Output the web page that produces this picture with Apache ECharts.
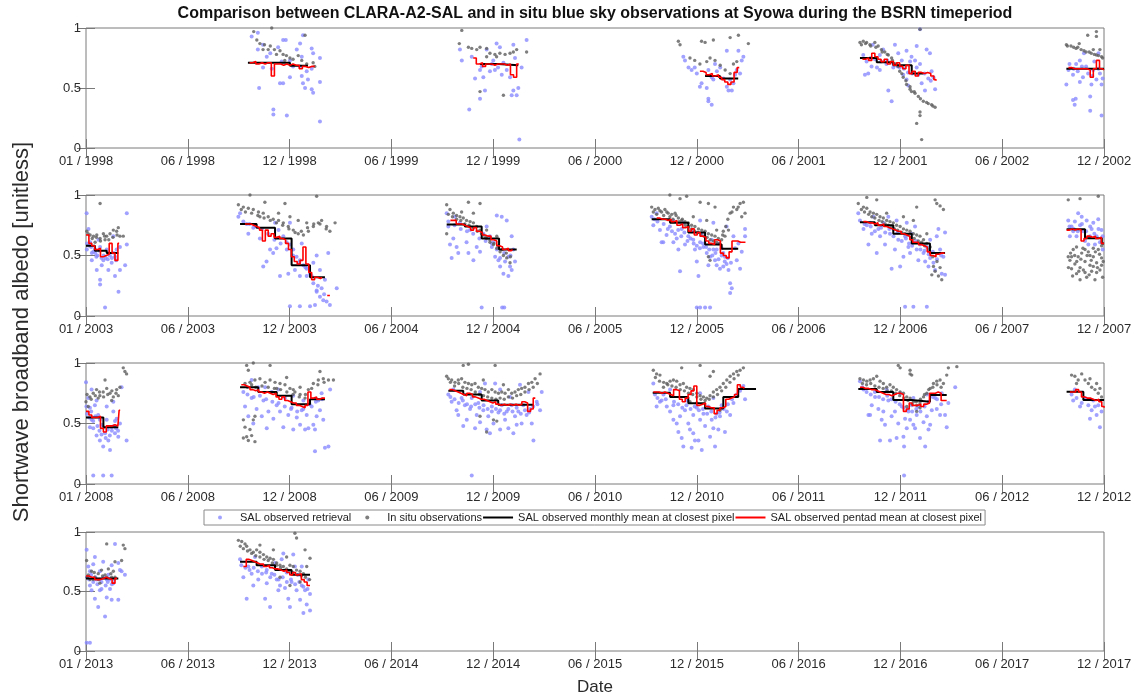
<!DOCTYPE html>
<html>
<head>
<meta charset="utf-8">
<script src="https://cdn.jsdelivr.net/npm/echarts@6/dist/echarts.min.js"></script>
<style>
  html, body { margin: 0; padding: 0; background: #ffffff; }
  #chart { width: 1136px; height: 700px; }
</style>
</head>
<body>
<div id="chart"></div>
<script>
// Labels
const TITLE = 'Comparison between CLARA-A2-SAL and in situ blue sky observations at Syowa during the BSRN timeperiod';
const Y_NAME = 'Shortwave broadband albedo [unitless]';
const X_NAME = 'Date';
const NAMES = ['SAL observed retrieval', 'In situ observations',
  'SAL observed monthly mean at closest pixel', 'SAL observed pentad mean at closest pixel'];

// Each panel spans Jan of its first year to Dec of its fifth year (59 months)
const PANEL_START_YEARS = [1998, 2003, 2008, 2013];
const Y_TICKS = [0, 0.5, 1];

// ---- Data: [decimal year, albedo]; null separates summer seasons ----

// Panel 1 : 1998 - 2002
const salP1 = [
  [1998.80,0.93],[1998.83,0.96],[1998.855,0.86],[1998.873,0.76],[1998.855,0.67],[1998.836,0.50],[1998.897,0.66],[1998.905,0.32],[1998.905,0.28],[1998.97,0.27],[1998.937,0.54],[1998.952,0.54],[1998.928,0.84],[1998.952,0.90],[1998.965,0.90],[1999.034,0.87],[1999.048,0.94],[1999.042,0.76],[1999.042,0.60],[1999.048,0.54],[1999.058,0.50],[1999.09,0.83],[1999.097,0.79],[1999.09,0.66],[1999.09,0.49],[1999.097,0.46],[1999.13,0.55],[1999.13,0.75],[1999.13,0.22],[1999.0,0.68],[1998.985,0.59],[1999.018,0.82],[1998.83,0.82],[1998.89,0.79],[1998.945,0.72],[1998.985,0.73],[1999.066,0.64],[1999.072,0.57],[1999.034,0.68],
  [1999.806,0.82],[1999.815,0.73],[1999.851,0.32],[1999.903,0.41],[1999.927,0.48],[1999.879,0.58],[1999.919,0.59],[1999.903,0.65],[1999.951,0.64],[1999.975,0.65],[1999.99,0.67],[2000.008,0.61],[2000.032,0.65],[2000.048,0.59],[2000.064,0.48],[2000.088,0.50],[2000.08,0.44],[2000.056,0.44],[2000.093,0.07],[2000.128,0.90],[2000.104,0.67],[1999.983,0.87],[1999.999,0.84],[2000.064,0.86],[1999.935,0.82],[1999.863,0.76],[1999.911,0.68],[1999.96,0.70],[1999.967,0.73],[2000.016,0.71],[2000.072,0.75],
  [2000.885,0.76],[2000.893,0.73],[2000.91,0.67],[2000.925,0.65],[2000.94,0.67],[2000.965,0.51],[2000.973,0.54],[2000.998,0.50],[2001.006,0.41],[2001.006,0.39],[2001.022,0.36],[2001.03,0.57],[2001.047,0.64],[2001.063,0.67],[2001.079,0.58],[2001.095,0.51],[2001.103,0.48],[2001.119,0.48],[2001.127,0.54],[2001.143,0.65],[2001.151,0.81],[2001.159,0.62],[2001.167,0.73],[2001.175,0.76],[2001.095,0.81],[2001.038,0.70],[2001.006,0.65],[2000.95,0.62],[2001.022,0.59],[2001.111,0.57],[2001.135,0.61],
  [2001.754,0.775],[2001.762,0.61],[2001.778,0.62],[2001.794,0.68],[2001.80,0.86],[2001.82,0.67],[2001.834,0.775],[2001.85,0.82],[2001.875,0.48],[2001.891,0.39],[2001.899,0.67],[2001.907,0.86],[2001.923,0.79],[2001.94,0.73],[2001.947,0.61],[2001.963,0.57],[2001.971,0.52],[2001.98,0.72],[2001.987,0.76],[2002.004,0.73],[2002.012,0.67],[2002.028,0.70],[2002.036,0.54],[2002.052,0.48],[2002.068,0.58],[2002.076,0.79],[2002.084,0.64],[2002.093,0.59],[2002.101,0.49],[2002.028,0.99],[2002.012,0.85],[2002.06,0.82],[2001.963,0.81],[2001.93,0.67],[2001.866,0.70],[2001.834,0.65],
  [2001.77,0.72],[2001.79,0.75],[2001.81,0.74],[2001.84,0.72],[2001.87,0.73],[2001.90,0.70],[2001.92,0.68],[2001.95,0.66],[2001.97,0.63],[2001.99,0.62],[2002.02,0.61],[2002.05,0.62],[2002.08,0.56],
  [2002.735,0.53],[2002.767,0.40],[2002.775,0.36],[2002.78,0.41],[2002.745,0.65],[2002.80,0.73],[2002.82,0.79],[2002.85,0.43],[2002.85,0.31],[2002.865,0.65],[2002.89,0.79],[2002.905,0.27],[2002.905,0.53],[2002.80,0.55],[2002.815,0.59],[2002.83,0.68],[2002.87,0.72],[2002.897,0.62],[2002.767,0.61],[2002.782,0.70],[2002.856,0.53],[2002.88,0.57],
  [2002.75,0.70],[2002.77,0.66],[2002.79,0.64],[2002.81,0.68],[2002.84,0.62],[2002.86,0.60],[2002.89,0.66],[2002.91,0.58]
];
const situP1 = [
  [1998.81,0.97],[1998.825,0.90],[1998.84,0.87],[1998.862,0.86],[1998.89,0.85],[1998.897,1.0],[1998.91,0.82],[1998.937,0.81],[1998.952,0.78],[1998.968,0.77],[1998.985,0.75],[1999.0,0.74],[1999.025,0.77],[1999.058,0.94],[1999.042,0.73],[1999.066,0.70],[1999.097,0.71],[1998.855,0.82],[1998.88,0.82],[1998.92,0.78],[1998.96,0.73],[1999.105,0.68],
  [1999.815,0.98],[1999.803,0.87],[1999.847,0.84],[1999.863,0.83],[1999.887,0.82],[1999.903,0.84],[1999.935,0.83],[1999.951,0.79],[1999.975,0.78],[1999.999,0.79],[2000.024,0.78],[2000.048,0.79],[2000.064,0.80],[2000.08,0.82],[2000.128,0.80],[1999.903,0.47],[2000.016,0.44],[1999.983,0.76],[1999.935,0.76],
  [2000.861,0.89],[2000.869,0.86],[2000.917,0.75],[2000.94,0.73],[2000.973,0.89],[2000.99,0.88],[2001.03,0.90],[2001.111,0.92],[2001.151,0.94],[2001.199,0.87],[2000.965,0.70],[2000.998,0.72],[2001.014,0.75],[2001.038,0.73],[2001.063,0.69],[2001.087,0.65],[2001.111,0.62],[2001.127,0.70],[2001.143,0.72],
  [2001.738,0.88],[2001.754,0.89],[2001.77,0.88],[2001.786,0.86],[2001.81,0.88],[2001.826,0.85],[2001.842,0.82],[2001.858,0.80],[2001.875,0.775],[2001.891,0.75],[2001.907,0.70],[2001.923,0.68],[2001.93,0.64],[2001.947,0.59],[2001.963,0.53],[2001.98,0.51],[2001.987,0.47],[2002.004,0.456],[2002.02,0.43],[2002.044,0.39],[2002.068,0.37],[2002.084,0.36],[2002.101,0.34],[2002.012,0.205],[2002.028,0.30],[2002.028,0.27],[2002.036,0.07],[2002.028,0.99],
  [2001.745,0.86],[2001.765,0.87],[2001.79,0.85],[2001.815,0.84],[2001.845,0.80],[2001.87,0.78],[2001.895,0.73],[2001.915,0.70],[2001.94,0.62],[2001.96,0.56],[2001.98,0.49],[2002.0,0.47],[2002.03,0.41],[2002.06,0.38],[2002.09,0.35],
  [2002.735,0.86],[2002.757,0.85],[2002.782,0.83],[2002.806,0.82],[2002.83,0.80],[2002.855,0.79],[2002.88,0.775],[2002.905,0.76],[2002.838,0.94],[2002.88,0.97],[2002.88,0.93],[2002.797,0.87],[2002.865,0.82],[2002.897,0.82],
  [2002.74,0.85],[2002.77,0.84],[2002.79,0.84],[2002.82,0.81],[2002.845,0.80],[2002.87,0.78],[2002.89,0.77],[2002.91,0.75]
];
const monthlyP1 = [
  [1998.782,0.71],[1998.985,0.685],[1999.072,0.685], null,
  [1999.903,0.70],[1999.991,0.69],[2000.088,0.69], null,
  [2000.99,0.60],[2001.062,0.58],[2001.15,0.58], null,
  [2001.738,0.75],[2001.819,0.715],[2001.899,0.69],[2001.988,0.62],[2002.044,0.62], null,
  [2002.735,0.66],[2002.917,0.66]
];
const pentadP1 = [
  [1998.79,0.71],[1998.805,0.72],[1998.82,0.70],[1998.835,0.71],[1998.85,0.70],[1998.865,0.71],[1998.88,0.71],[1998.895,0.60],[1998.91,0.70],[1998.925,0.70],[1998.94,0.69],[1998.955,0.70],[1998.97,0.69],[1998.985,0.70],[1999.0,0.69],[1999.015,0.69],[1999.03,0.66],[1999.045,0.68],[1999.06,0.67],[1999.075,0.68],[1999.09,0.68],[1999.105,0.68], null,
  [1999.87,0.75],[1999.885,0.70],[1999.90,0.71],[1999.915,0.68],[1999.93,0.70],[1999.945,0.70],[1999.96,0.69],[1999.975,0.70],[1999.99,0.70],[2000.005,0.70],[2000.02,0.69],[2000.035,0.70],[2000.05,0.61],[2000.065,0.59],[2000.08,0.70],[2000.09,0.70], null,
  [2000.965,0.64],[2000.98,0.63],[2000.995,0.61],[2001.01,0.62],[2001.025,0.60],[2001.04,0.61],[2001.055,0.59],[2001.07,0.57],[2001.085,0.55],[2001.10,0.53],[2001.115,0.55],[2001.13,0.63],[2001.145,0.67],[2001.155,0.67], null,
  [2001.75,0.74],[2001.765,0.75],[2001.78,0.73],[2001.795,0.79],[2001.81,0.76],[2001.825,0.74],[2001.84,0.72],[2001.855,0.74],[2001.87,0.70],[2001.885,0.72],[2001.90,0.69],[2001.915,0.71],[2001.93,0.68],[2001.945,0.66],[2001.96,0.69],[2001.975,0.62],[2001.99,0.64],[2002.005,0.60],[2002.02,0.63],[2002.035,0.62],[2002.05,0.63],[2002.065,0.62],[2002.08,0.60],[2002.095,0.57],[2002.105,0.56], null,
  [2002.745,0.67],[2002.76,0.66],[2002.775,0.66],[2002.79,0.66],[2002.805,0.66],[2002.82,0.66],[2002.835,0.65],[2002.85,0.59],[2002.865,0.66],[2002.88,0.73],[2002.895,0.66],[2002.91,0.65],[2002.917,0.65]
];

// Panel 2 : 2003 - 2007
const salP2 = [
  [2003.068,0.30],[2003.068,0.26],[2003.052,0.38],[2003.092,0.07],[2003.157,0.20],[2003.14,0.33],[2003.197,0.85],[2003.189,0.42],[2003.164,0.38],[2003.003,0.85],[2003.012,0.72],[2003.028,0.52],[2003.05,0.49],[2003.084,0.46],[2003.108,0.52],[2003.124,0.44],[2003.14,0.49],[2003.148,0.55],[2003.164,0.57],[2003.044,0.55],[2003.068,0.57],[2003.10,0.55],[2003.02,0.61],[2003.06,0.63],[2003.132,0.66],[2003.076,0.42],[2003.108,0.38],[2003.004,0.55],[2003.028,0.46],[2003.197,0.59],
  [2003.005,0.60],[2003.015,0.58],[2003.025,0.57],[2003.035,0.53],[2003.045,0.52],[2003.055,0.50],[2003.065,0.54],[2003.075,0.48],[2003.085,0.50],[2003.095,0.48],[2003.105,0.47],[2003.115,0.50],[2003.125,0.48],[2003.135,0.52],[2003.145,0.46],
  [2003.736,0.82],[2003.744,0.85],[2003.776,0.76],[2003.784,0.68],[2003.808,0.73],[2003.856,0.41],[2003.872,0.45],[2003.889,0.55],[2003.92,0.56],[2003.93,0.71],[2003.953,0.66],[2003.969,0.61],[2003.985,0.59],[2004.001,0.55],[2004.017,0.49],[2004.033,0.46],[2004.05,0.42],[2004.066,0.39],[2004.082,0.35],[2004.098,0.27],[2004.114,0.21],[2004.13,0.16],[2004.146,0.13],[2004.162,0.12],[2004.178,0.09],[2003.985,0.08],[2004.033,0.08],[2004.082,0.08],[2004.106,0.09],[2004.13,0.38],[2004.154,0.30],[2004.211,0.23],[2004.17,0.52],[2004.114,0.50],[2004.098,0.44],[2004.066,0.33],[2004.042,0.60],[2004.009,0.38],[2003.977,0.35],[2003.937,0.33],[2003.904,0.52],[2003.84,0.64],[2003.913,0.77],[2003.985,0.77],[2004.114,0.20],[2004.138,0.23],[2004.033,0.33],
  [2003.76,0.78],[2003.79,0.76],[2003.82,0.74],[2003.85,0.72],[2003.88,0.68],[2003.91,0.63],[2003.94,0.60],[2003.97,0.55],[2004.0,0.50],[2004.03,0.44],[2004.06,0.40],[2004.09,0.33],[2004.12,0.25],[2004.15,0.18],
  [2004.742,0.85],[2004.75,0.74],[2004.758,0.59],[2004.774,0.64],[2004.79,0.57],[2004.766,0.48],[2004.798,0.52],[2004.838,0.61],[2004.847,0.52],[2004.871,0.46],[2004.887,0.57],[2004.903,0.53],[2004.919,0.68],[2004.935,0.74],[2004.951,0.66],[2004.968,0.61],[2004.984,0.55],[2004.992,0.46],[2005.0,0.41],[2005.016,0.35],[2005.024,0.45],[2005.04,0.33],[2005.04,0.49],[2004.984,0.83],[2005.008,0.82],[2005.032,0.79],[2005.056,0.66],[2005.064,0.55],[2005.072,0.45],[2005.048,0.41],[2004.911,0.07],[2005.01,0.07],[2005.02,0.07],[2004.855,0.71],[2004.806,0.77],[2004.782,0.82],[2004.96,0.57],[2004.976,0.49],[2005.0,0.48],[2005.056,0.38],
  [2004.75,0.78],[2004.78,0.75],[2004.81,0.72],[2004.84,0.70],[2004.87,0.68],[2004.90,0.64],[2004.93,0.62],[2004.96,0.60],[2004.99,0.56],[2005.02,0.52],[2005.05,0.50],
  [2005.732,0.82],[2005.74,0.75],[2005.756,0.85],[2005.772,0.71],[2005.788,0.61],[2005.804,0.67],[2005.82,0.74],[2005.837,0.79],[2005.853,0.64],[2005.861,0.55],[2005.869,0.37],[2005.877,0.72],[2005.893,0.59],[2005.909,0.66],[2005.925,0.70],[2005.941,0.55],[2005.95,0.45],[2005.958,0.33],[2005.966,0.61],[2005.982,0.57],[2005.998,0.52],[2006.006,0.42],[2006.014,0.49],[2006.03,0.55],[2006.038,0.46],[2006.046,0.42],[2006.062,0.39],[2006.078,0.52],[2006.094,0.43],[2006.103,0.38],[2006.111,0.27],[2006.119,0.23],[2006.111,0.19],[2006.143,0.46],[2006.159,0.39],[2006.167,0.53],[2006.183,0.66],[2006.183,0.72],[2006.127,0.66],[2006.094,0.74],[2006.03,0.77],[2005.966,0.79],[2005.95,0.07],[2005.966,0.07],[2005.99,0.07],[2006.014,0.07],[2005.78,0.61],[2005.837,0.61],[2006.054,0.60],[2006.07,0.56],[2006.086,0.49],[2006.135,0.56],[2006.151,0.60],[2005.885,0.77],[2005.933,0.63],[2005.974,0.68],[2006.022,0.63],[2006.046,0.55],[2006.078,0.41],
  [2005.745,0.80],[2005.76,0.78],[2005.79,0.76],[2005.81,0.72],[2005.83,0.70],[2005.845,0.68],[2005.86,0.71],[2005.875,0.66],[2005.89,0.69],[2005.905,0.62],[2005.92,0.64],[2005.935,0.60],[2005.95,0.58],[2005.965,0.56],[2005.98,0.60],[2005.995,0.57],[2006.01,0.55],[2006.025,0.50],[2006.04,0.52],[2006.055,0.47],[2006.07,0.50],[2006.085,0.45],[2006.10,0.48],[2006.115,0.44],
  [2006.73,0.85],[2006.738,0.79],[2006.755,0.72],[2006.771,0.75],[2006.779,0.59],[2006.795,0.68],[2006.803,0.82],[2006.819,0.52],[2006.835,0.66],[2006.851,0.77],[2006.859,0.59],[2006.875,0.82],[2006.883,0.68],[2006.891,0.39],[2006.907,0.55],[2006.915,0.79],[2006.923,0.63],[2006.932,0.41],[2006.948,0.49],[2006.956,0.66],[2006.964,0.77],[2006.972,0.57],[2006.98,0.52],[2006.996,0.61],[2007.004,0.74],[2007.012,0.55],[2007.02,0.46],[2007.028,0.59],[2007.045,0.52],[2007.053,0.45],[2007.061,0.57],[2007.069,0.41],[2007.077,0.48],[2007.093,0.44],[2007.101,0.38],[2007.109,0.66],[2007.117,0.72],[2007.125,0.55],[2007.133,0.35],[2007.141,0.49],[2007.149,0.69],[2007.149,0.34],[2006.956,0.077],[2006.996,0.077],[2007.061,0.077],[2006.787,0.77],[2006.827,0.72],[2006.899,0.72],[2006.988,0.68],[2007.077,0.63],
  [2006.76,0.76],[2006.79,0.74],[2006.81,0.70],[2006.84,0.73],[2006.86,0.69],[2006.88,0.72],[2006.90,0.66],[2006.92,0.69],[2006.94,0.62],[2006.96,0.64],[2006.975,0.60],[2006.99,0.58],[2007.01,0.62],[2007.03,0.55],[2007.05,0.54],[2007.07,0.51],[2007.09,0.53],[2007.11,0.47],[2007.13,0.50],
  [2007.744,0.79],[2007.752,0.66],[2007.76,0.74],[2007.776,0.78],[2007.792,0.85],[2007.801,0.75],[2007.817,0.70],[2007.833,0.79],[2007.841,0.59],[2007.857,0.72],[2007.865,0.77],[2007.881,0.66],[2007.889,0.80],[2007.897,0.61],[2007.905,0.71],[2007.784,0.66],[2007.809,0.82],[2007.849,0.66],[2007.873,0.59],[2007.768,0.70],[2007.825,0.62],[2007.91,0.55],
  [2007.75,0.74],[2007.77,0.72],[2007.79,0.70],[2007.81,0.76],[2007.83,0.70],[2007.85,0.74],[2007.87,0.68],[2007.89,0.72],[2007.91,0.66]
];
const situP2 = [
  [2003.004,0.70],[2003.02,0.67],[2003.036,0.66],[2003.052,0.67],[2003.068,0.64],[2003.084,0.68],[2003.10,0.66],[2003.116,0.68],[2003.132,0.71],[2003.148,0.70],[2003.164,0.66],[2003.18,0.66],[2003.068,0.93],[2003.044,0.61],[2003.092,0.63],[2003.156,0.73],
  [2003.01,0.68],[2003.03,0.64],[2003.05,0.65],[2003.07,0.62],[2003.09,0.66],[2003.11,0.63],[2003.13,0.65],[2003.15,0.67],
  [2003.736,0.92],[2003.76,0.90],[2003.784,0.89],[2003.808,0.88],[2003.833,0.86],[2003.856,0.85],[2003.88,0.82],[2003.904,0.80],[2003.93,0.79],[2003.953,0.77],[2003.977,0.74],[2004.001,0.71],[2004.025,0.68],[2004.05,0.67],[2004.074,0.70],[2004.098,0.74],[2004.122,0.77],[2004.138,0.79],[2004.162,0.74],[2004.178,0.70],[2004.203,0.77],[2003.792,1.0],[2003.864,0.94],[2003.961,0.93],[2004.114,0.99],[2004.025,0.79],[2004.066,0.77],[2003.84,0.82],[2003.93,0.85],[2003.985,0.82],
  [2003.75,0.88],[2003.77,0.86],[2003.80,0.85],[2003.83,0.83],[2003.86,0.81],[2003.89,0.79],[2003.92,0.77],[2003.95,0.75],[2003.98,0.72],[2004.01,0.69],[2004.04,0.70],[2004.07,0.73],[2004.10,0.76],[2004.13,0.76],[2004.16,0.72],
  [2004.742,0.92],[2004.758,0.88],[2004.774,0.85],[2004.79,0.83],[2004.806,0.82],[2004.822,0.81],[2004.838,0.79],[2004.855,0.78],[2004.871,0.77],[2004.887,0.74],[2004.903,0.71],[2004.919,0.67],[2004.935,0.64],[2004.951,0.61],[2004.968,0.59],[2004.984,0.56],[2005.0,0.53],[2005.016,0.50],[2005.032,0.48],[2005.048,0.44],[2004.847,0.94],[2004.903,0.93],[2004.742,0.68],[2004.814,0.86],[2004.871,0.85],[2004.984,0.66],[2004.935,0.71],
  [2004.75,0.84],[2004.77,0.82],[2004.79,0.80],[2004.81,0.79],[2004.83,0.76],[2004.85,0.75],[2004.87,0.73],[2004.89,0.70],[2004.91,0.68],[2004.93,0.65],[2004.95,0.63],[2004.97,0.60],[2004.99,0.58],[2005.01,0.55],[2005.03,0.52],[2005.05,0.49],
  [2005.732,0.90],[2005.748,0.88],[2005.764,0.89],[2005.78,0.86],[2005.796,0.88],[2005.812,0.85],[2005.829,0.84],[2005.845,0.85],[2005.861,0.81],[2005.877,0.79],[2005.893,0.78],[2005.909,0.77],[2005.925,0.75],[2005.941,0.74],[2005.958,0.72],[2005.974,0.71],[2005.99,0.70],[2006.006,0.68],[2006.022,0.67],[2006.038,0.66],[2006.054,0.64],[2006.07,0.63],[2006.086,0.66],[2006.103,0.71],[2006.111,0.85],[2006.127,0.90],[2006.143,0.88],[2006.159,0.93],[2006.175,0.94],[2006.183,0.85],[2006.167,0.82],[2005.82,1.0],[2005.869,0.97],[2005.901,0.99],[2005.966,0.94],[2006.006,0.93],[2006.038,0.90],[2006.006,0.49],[2006.014,0.46],[2005.933,0.82],[2005.998,0.79],[2006.046,0.71],[2006.078,0.70],
  [2005.74,0.86],[2005.756,0.84],[2005.772,0.87],[2005.79,0.83],[2005.805,0.86],[2005.82,0.82],[2005.835,0.80],[2005.85,0.83],[2005.865,0.78],[2005.88,0.80],[2005.895,0.75],[2005.91,0.74],[2005.925,0.72],[2005.94,0.70],[2005.955,0.69],[2005.97,0.67],[2005.985,0.66],[2006.0,0.65],[2006.015,0.63],[2006.03,0.62],[2006.045,0.61],[2006.06,0.60],[2006.075,0.67],[2006.09,0.74],[2006.1,0.80],[2006.12,0.86],[2006.15,0.90],
  [2006.73,0.93],[2006.755,0.90],[2006.771,0.89],[2006.787,0.86],[2006.803,0.85],[2006.819,0.84],[2006.835,0.82],[2006.851,0.81],[2006.867,0.79],[2006.883,0.78],[2006.899,0.77],[2006.915,0.75],[2006.932,0.74],[2006.948,0.72],[2006.964,0.71],[2006.98,0.70],[2006.996,0.68],[2007.012,0.67],[2007.028,0.66],[2007.045,0.63],[2007.061,0.60],[2007.077,0.57],[2007.093,0.41],[2007.101,0.37],[2007.117,0.33],[2007.133,0.30],[2007.085,0.34],[2007.109,0.93],[2007.125,0.91],[2007.141,0.88],[2007.101,0.96],[2007.012,0.90],[2006.771,0.98],[2006.819,0.96],[2006.948,0.82],[2006.996,0.79],[2007.061,0.68],[2006.867,0.85],
  [2006.745,0.88],[2006.76,0.86],[2006.78,0.84],[2006.795,0.82],[2006.81,0.81],[2006.83,0.79],[2006.845,0.78],[2006.86,0.76],[2006.875,0.75],[2006.89,0.74],[2006.905,0.72],[2006.92,0.71],[2006.94,0.69],[2006.955,0.68],[2006.97,0.67],[2006.985,0.65],[2007.0,0.64],[2007.02,0.62],[2007.035,0.61],[2007.05,0.58],[2007.07,0.55],[2007.08,0.52],[2007.09,0.49],[2007.11,0.45],[2007.125,0.40],
  [2007.744,0.49],[2007.752,0.46],[2007.76,0.39],[2007.768,0.55],[2007.776,0.43],[2007.784,0.35],[2007.792,0.49],[2007.801,0.40],[2007.809,0.52],[2007.817,0.38],[2007.825,0.45],[2007.833,0.32],[2007.841,0.53],[2007.849,0.42],[2007.857,0.37],[2007.865,0.49],[2007.873,0.30],[2007.881,0.44],[2007.889,0.55],[2007.897,0.38],[2007.905,0.48],[2007.91,0.32],[2007.744,0.96],[2007.801,0.97],[2007.889,0.99],[2007.784,0.57],[2007.865,0.56],[2007.76,0.49],[2007.825,0.55],[2007.881,0.36],[2007.905,0.58],[2007.801,0.30],[2007.849,0.50],
  [2007.745,0.40],[2007.755,0.52],[2007.765,0.33],[2007.775,0.50],[2007.785,0.45],[2007.795,0.37],[2007.805,0.47],[2007.815,0.56],[2007.825,0.36],[2007.835,0.50],[2007.845,0.34],[2007.855,0.46],[2007.865,0.41],[2007.875,0.53],[2007.885,0.40],[2007.895,0.51],[2007.905,0.42],[2007.913,0.45]
];
const monthlyP2 = [
  [2003.0,0.58],[2003.043,0.54],[2003.10,0.52],[2003.156,0.52], null,
  [2003.744,0.76],[2003.824,0.73],[2003.913,0.64],[2003.993,0.42],[2004.082,0.32],[2004.154,0.32], null,
  [2004.742,0.757],[2004.83,0.74],[2004.911,0.64],[2004.995,0.55],[2005.08,0.55], null,
  [2005.732,0.80],[2005.821,0.77],[2005.909,0.69],[2005.99,0.59],[2006.07,0.555],[2006.15,0.555], null,
  [2006.738,0.774],[2006.81,0.75],[2006.899,0.68],[2006.988,0.60],[2007.076,0.52],[2007.149,0.52], null,
  [2007.736,0.716],[2007.825,0.642],[2007.906,0.60],[2007.917,0.60]
];
const pentadP2 = [
  [2003.0,0.67],[2003.014,0.60],[2003.028,0.58],[2003.042,0.55],[2003.056,0.56],[2003.07,0.49],[2003.084,0.50],[2003.098,0.51],[2003.112,0.60],[2003.126,0.52],[2003.14,0.46],[2003.154,0.60],[2003.16,0.60], null,
  [2003.768,0.76],[2003.782,0.76],[2003.796,0.75],[2003.81,0.74],[2003.824,0.73],[2003.838,0.71],[2003.852,0.62],[2003.866,0.71],[2003.88,0.66],[2003.894,0.68],[2003.908,0.65],[2003.922,0.66],[2003.936,0.64],[2003.95,0.63],[2003.964,0.60],[2003.978,0.55],[2003.992,0.49],[2004.006,0.45],[2004.02,0.43],[2004.034,0.46],[2004.048,0.57],[2004.062,0.43],[2004.076,0.36],[2004.09,0.30],[2004.104,0.32],[2004.118,0.31],[2004.132,0.32],[2004.14,0.32], null,
  [2004.165,0.17],[2004.178,0.17], null,
  [2004.76,0.79],[2004.774,0.79],[2004.788,0.76],[2004.802,0.76],[2004.816,0.75],[2004.83,0.74],[2004.844,0.73],[2004.858,0.71],[2004.872,0.73],[2004.886,0.70],[2004.90,0.69],[2004.914,0.67],[2004.928,0.66],[2004.942,0.66],[2004.956,0.63],[2004.97,0.62],[2004.984,0.58],[2004.998,0.57],[2005.012,0.55],[2005.026,0.56],[2005.04,0.54],[2005.054,0.55],[2005.06,0.55], null,
  [2005.756,0.81],[2005.77,0.80],[2005.784,0.80],[2005.798,0.79],[2005.812,0.80],[2005.826,0.78],[2005.84,0.79],[2005.854,0.75],[2005.868,0.76],[2005.882,0.73],[2005.896,0.74],[2005.91,0.70],[2005.924,0.72],[2005.938,0.67],[2005.952,0.69],[2005.966,0.66],[2005.98,0.65],[2005.994,0.62],[2006.008,0.60],[2006.022,0.59],[2006.036,0.63],[2006.05,0.62],[2006.064,0.52],[2006.078,0.50],[2006.092,0.48],[2006.106,0.53],[2006.12,0.62],[2006.134,0.62],[2006.148,0.61],[2006.162,0.61],[2006.176,0.61],[2006.185,0.61], null,
  [2006.755,0.78],[2006.769,0.77],[2006.783,0.77],[2006.797,0.76],[2006.811,0.77],[2006.825,0.75],[2006.839,0.76],[2006.853,0.74],[2006.867,0.73],[2006.881,0.72],[2006.895,0.71],[2006.909,0.70],[2006.923,0.70],[2006.937,0.68],[2006.951,0.67],[2006.965,0.66],[2006.979,0.63],[2006.993,0.61],[2007.007,0.61],[2007.021,0.59],[2007.035,0.58],[2007.049,0.57],[2007.063,0.53],[2007.077,0.50],[2007.091,0.49],[2007.105,0.51],[2007.119,0.52],[2007.133,0.52],[2007.147,0.52], null,
  [2007.736,0.71],[2007.75,0.72],[2007.764,0.71],[2007.778,0.72],[2007.792,0.71],[2007.806,0.62],[2007.82,0.64],[2007.834,0.66],[2007.848,0.65],[2007.862,0.66],[2007.876,0.64],[2007.89,0.65],[2007.904,0.60],[2007.917,0.60]
];

// Panel 3 : 2008 - 2012
const salP3 = [
  [2008.0,0.84],[2008.011,0.71],[2008.019,0.63],[2008.027,0.53],[2008.035,0.46],[2008.043,0.65],[2008.051,0.40],[2008.059,0.57],[2008.067,0.36],[2008.075,0.49],[2008.083,0.31],[2008.092,0.42],[2008.10,0.53],[2008.108,0.36],[2008.116,0.28],[2008.124,0.47],[2008.132,0.60],[2008.14,0.42],[2008.148,0.54],[2008.156,0.39],[2008.164,0.50],[2008.172,0.80],[2008.196,0.36],[2008.002,0.64],[2008.027,0.78],[2008.051,0.69],[2008.132,0.68],[2008.10,0.64],[2008.035,0.07],[2008.083,0.07],[2008.124,0.07],[2008.067,0.53],[2008.14,0.52],[2008.019,0.47],
  [2008.005,0.58],[2008.015,0.55],[2008.025,0.60],[2008.035,0.52],[2008.045,0.56],[2008.055,0.48],[2008.065,0.44],[2008.075,0.41],[2008.085,0.47],[2008.095,0.38],[2008.105,0.45],[2008.115,0.40],[2008.125,0.44],[2008.135,0.48],[2008.145,0.46],[2008.155,0.44],
  [2008.76,0.76],[2008.768,0.64],[2008.784,0.56],[2008.80,0.71],[2008.808,0.50],[2008.824,0.62],[2008.832,0.80],[2008.849,0.56],[2008.857,0.69],[2008.873,0.46],[2008.881,0.60],[2008.897,0.76],[2008.905,0.54],[2008.921,0.65],[2008.937,0.60],[2008.953,0.47],[2008.961,0.71],[2008.977,0.57],[2008.993,0.63],[2009.001,0.45],[2009.018,0.55],[2009.034,0.49],[2009.042,0.61],[2009.058,0.45],[2009.066,0.57],[2009.09,0.64],[2009.106,0.45],[2009.114,0.56],[2009.122,0.69],[2009.13,0.61],[2009.146,0.53],[2009.154,0.30],[2009.171,0.31],[2009.106,0.27],[2009.179,0.78],[2009.138,0.75],[2008.929,0.78],[2008.865,0.80],[2009.001,0.73],[2009.05,0.69],[2009.098,0.49],[2009.074,0.46],[2008.80,0.86],
  [2008.78,0.74],[2008.81,0.72],[2008.84,0.73],[2008.87,0.70],[2008.90,0.68],[2008.93,0.67],[2008.96,0.64],[2008.99,0.62],[2009.02,0.60],[2009.05,0.62],[2009.08,0.66],[2009.11,0.68],[2009.14,0.70],
  [2009.75,0.74],[2009.766,0.68],[2009.774,0.78],[2009.79,0.61],[2009.798,0.57],[2009.814,0.71],[2009.83,0.65],[2009.839,0.53],[2009.855,0.62],[2009.863,0.71],[2009.879,0.46],[2009.887,0.57],[2009.895,0.67],[2009.903,0.51],[2009.919,0.61],[2009.927,0.83],[2009.935,0.45],[2009.943,0.56],[2009.96,0.64],[2009.968,0.50],[2009.976,0.83],[2009.992,0.59],[2010.0,0.45],[2010.008,0.65],[2010.024,0.53],[2010.032,0.60],[2010.04,0.46],[2010.056,0.65],[2010.064,0.42],[2010.072,0.56],[2010.088,0.60],[2010.096,0.82],[2010.104,0.50],[2010.112,0.65],[2010.128,0.57],[2010.137,0.76],[2010.145,0.62],[2010.153,0.50],[2010.161,0.36],[2010.177,0.68],[2010.193,0.61],[2010.201,0.76],[2009.863,0.07],[2010.0,0.78],[2009.903,0.76],[2010.048,0.72],[2009.822,0.48],[2009.951,0.42],[2010.08,0.49],
  [2009.76,0.72],[2009.78,0.70],[2009.80,0.67],[2009.82,0.69],[2009.84,0.66],[2009.86,0.64],[2009.88,0.66],[2009.90,0.63],[2009.92,0.65],[2009.94,0.62],[2009.96,0.60],[2009.98,0.62],[2010.0,0.61],[2010.02,0.58],[2010.04,0.62],[2010.06,0.60],[2010.08,0.63],[2010.10,0.58],[2010.12,0.61],[2010.14,0.59],[2010.16,0.64],[2010.18,0.66],
  [2010.74,0.83],[2010.748,0.74],[2010.756,0.64],[2010.772,0.68],[2010.789,0.74],[2010.805,0.64],[2010.821,0.60],[2010.837,0.65],[2010.853,0.50],[2010.861,0.43],[2010.869,0.56],[2010.877,0.38],[2010.885,0.31],[2010.893,0.61],[2010.901,0.69],[2010.909,0.50],[2010.917,0.45],[2010.925,0.30],[2010.933,0.57],[2010.941,0.36],[2010.95,0.63],[2010.958,0.36],[2010.966,0.53],[2010.974,0.28],[2010.982,0.58],[2010.99,0.48],[2011.006,0.64],[2011.014,0.39],[2011.022,0.53],[2011.03,0.46],[2011.038,0.31],[2011.046,0.58],[2011.062,0.56],[2011.07,0.65],[2011.086,0.43],[2011.095,0.60],[2011.111,0.57],[2011.127,0.67],[2011.143,0.74],[2011.159,0.77],[2011.175,0.81],[2011.183,0.70],[2010.966,0.75],[2011.03,0.71],[2010.821,0.78],[2010.933,0.42],[2011.054,0.45],[2010.837,0.53],
  [2010.76,0.71],[2010.78,0.69],[2010.80,0.70],[2010.84,0.68],[2010.86,0.66],[2010.88,0.63],[2010.90,0.65],[2010.92,0.62],[2010.94,0.64],[2010.96,0.61],[2010.98,0.62],[2011.0,0.58],[2011.02,0.60],[2011.04,0.55],[2011.06,0.59],[2011.08,0.62],[2011.10,0.66],[2011.12,0.70],
  [2011.738,0.85],[2011.755,0.78],[2011.779,0.57],[2011.795,0.65],[2011.811,0.72],[2011.827,0.62],[2011.835,0.36],[2011.843,0.53],[2011.851,0.60],[2011.859,0.49],[2011.875,0.69],[2011.883,0.36],[2011.891,0.56],[2011.907,0.60],[2011.915,0.38],[2011.923,0.50],[2011.94,0.64],[2011.948,0.39],[2011.951,0.31],[2011.956,0.54],[2011.964,0.46],[2011.972,0.60],[2011.98,0.53],[2011.988,0.65],[2011.996,0.49],[2012.004,0.46],[2012.012,0.57],[2012.02,0.64],[2012.028,0.38],[2012.045,0.51],[2012.053,0.31],[2012.061,0.56],[2012.069,0.45],[2012.077,0.49],[2012.085,0.61],[2012.101,0.71],[2012.109,0.62],[2012.125,0.57],[2012.133,0.75],[2012.149,0.57],[2012.157,0.47],[2012.165,0.67],[2012.198,0.80],[2011.787,0.57],[2011.951,0.07],[2011.932,0.75],[2011.867,0.78],[2011.996,0.71],[2012.061,0.74],
  [2011.75,0.80],[2011.77,0.76],[2011.79,0.74],[2011.81,0.76],[2011.83,0.72],[2011.85,0.70],[2011.87,0.73],[2011.89,0.70],[2011.91,0.68],[2011.93,0.66],[2011.95,0.63],[2011.97,0.62],[2011.99,0.60],[2012.01,0.62],[2012.03,0.60],[2012.05,0.64],[2012.07,0.68],[2012.09,0.72],[2012.11,0.70],[2012.13,0.66],
  [2012.76,0.74],[2012.768,0.69],[2012.784,0.71],[2012.801,0.64],[2012.809,0.67],[2012.825,0.71],[2012.841,0.65],[2012.849,0.54],[2012.857,0.61],[2012.873,0.64],[2012.881,0.57],[2012.889,0.65],[2012.897,0.47],[2012.905,0.60],[2012.776,0.78],[2012.865,0.69]
];
const situP3 = [
  [2008.0,0.68],[2008.019,0.72],[2008.035,0.75],[2008.051,0.78],[2008.067,0.73],[2008.083,0.76],[2008.10,0.79],[2008.116,0.75],[2008.132,0.72],[2008.148,0.78],[2008.164,0.80],[2008.18,0.96],[2008.188,0.93],[2008.196,0.91],[2008.092,0.86],[2008.011,0.64],[2008.059,0.71],[2008.124,0.69],[2008.156,0.73],
  [2008.005,0.74],[2008.025,0.70],[2008.045,0.73],[2008.065,0.76],[2008.085,0.72],[2008.105,0.74],[2008.125,0.77],[2008.145,0.75],
  [2008.768,0.83],[2008.792,0.84],[2008.816,0.86],[2008.84,0.87],[2008.865,0.84],[2008.889,0.86],[2008.913,0.84],[2008.937,0.83],[2008.961,0.82],[2008.985,0.79],[2009.009,0.76],[2009.034,0.74],[2009.058,0.71],[2009.074,0.78],[2009.098,0.83],[2009.122,0.86],[2009.146,0.87],[2009.171,0.86],[2009.195,0.86],[2008.776,0.98],[2008.808,1.0],[2008.889,0.98],[2008.784,0.94],[2009.13,0.93],[2008.76,0.53],[2008.768,0.47],[2008.776,0.39],[2008.784,0.36],[2008.80,0.40],[2008.808,0.53],[2008.816,0.56],[2008.76,0.38],[2008.792,0.45],[2008.816,0.35],[2008.969,0.88],[2009.034,0.80],[2008.921,0.79],[2009.001,0.78],
  [2008.78,0.80],[2008.80,0.82],[2008.82,0.80],[2008.85,0.81],[2008.88,0.80],[2008.91,0.79],[2008.94,0.78],[2008.97,0.76],[2009.0,0.74],[2009.03,0.72],[2009.06,0.74],[2009.09,0.79],[2009.12,0.82],[2009.15,0.84],
  [2009.742,0.89],[2009.75,0.87],[2009.766,0.86],[2009.782,0.84],[2009.798,0.86],[2009.814,0.87],[2009.83,0.84],[2009.847,0.83],[2009.863,0.82],[2009.879,0.83],[2009.895,0.80],[2009.911,0.79],[2009.927,0.78],[2009.943,0.76],[2009.96,0.78],[2009.976,0.76],[2009.992,0.75],[2010.008,0.76],[2010.024,0.75],[2010.04,0.78],[2010.056,0.75],[2010.072,0.76],[2010.088,0.78],[2010.104,0.79],[2010.12,0.80],[2010.137,0.83],[2010.153,0.84],[2010.169,0.87],[2010.193,0.91],[2009.822,0.98],[2009.847,0.99],[2009.976,0.98],[2009.903,0.56],[2009.968,0.53],[2009.935,0.43],[2009.984,0.52],[2009.919,0.86],[2010.016,0.82],
  [2009.76,0.84],[2009.78,0.81],[2009.80,0.83],[2009.82,0.80],[2009.84,0.79],[2009.86,0.78],[2009.88,0.76],[2009.90,0.74],[2009.92,0.73],[2009.94,0.72],[2009.96,0.71],[2009.98,0.70],[2010.0,0.71],[2010.02,0.70],[2010.04,0.72],[2010.06,0.71],[2010.08,0.73],[2010.10,0.74],[2010.12,0.76],[2010.14,0.78],[2010.16,0.80],[2010.18,0.83],
  [2010.74,0.94],[2010.756,0.91],[2010.772,0.90],[2010.789,0.80],[2010.805,0.83],[2010.821,0.85],[2010.837,0.86],[2010.853,0.85],[2010.869,0.82],[2010.885,0.83],[2010.901,0.80],[2010.917,0.79],[2010.933,0.78],[2010.95,0.75],[2010.966,0.73],[2010.982,0.72],[2010.998,0.71],[2011.014,0.73],[2011.03,0.76],[2011.046,0.78],[2011.062,0.80],[2011.078,0.83],[2011.095,0.86],[2011.111,0.89],[2011.127,0.91],[2011.143,0.93],[2011.159,0.94],[2011.175,0.96],[2010.877,0.96],[2011.014,0.89],[2011.03,0.93],[2010.966,0.98],[2010.917,0.68],[2010.95,0.67],[2011.062,0.61],
  [2010.75,0.88],[2010.77,0.85],[2010.79,0.84],[2010.81,0.82],[2010.83,0.81],[2010.85,0.80],[2010.87,0.78],[2010.89,0.77],[2010.91,0.75],[2010.93,0.74],[2010.95,0.72],[2010.97,0.70],[2010.99,0.69],[2011.01,0.70],[2011.03,0.72],[2011.05,0.74],[2011.07,0.77],[2011.09,0.80],[2011.11,0.84],[2011.13,0.87],[2011.15,0.90],
  [2011.738,0.87],[2011.755,0.86],[2011.771,0.85],[2011.787,0.86],[2011.803,0.87],[2011.819,0.89],[2011.835,0.85],[2011.851,0.83],[2011.867,0.80],[2011.883,0.82],[2011.899,0.80],[2011.915,0.78],[2011.932,0.76],[2011.948,0.75],[2011.964,0.72],[2011.98,0.71],[2011.996,0.68],[2012.012,0.65],[2012.028,0.67],[2012.045,0.72],[2012.061,0.75],[2012.077,0.79],[2012.093,0.83],[2012.109,0.85],[2012.125,0.86],[2012.141,0.83],[2012.157,0.90],[2012.165,0.96],[2012.206,0.97],[2011.923,0.98],[2011.932,0.96],[2011.98,0.94],[2011.98,0.91],[2011.988,0.90],[2012.012,0.60],[2012.028,0.63],[2011.964,0.64],
  [2011.75,0.83],[2011.77,0.82],[2011.79,0.83],[2011.81,0.81],[2011.83,0.80],[2011.85,0.79],[2011.87,0.77],[2011.89,0.77],[2011.91,0.75],[2011.93,0.73],[2011.95,0.71],[2011.97,0.69],[2011.99,0.66],[2012.01,0.68],[2012.03,0.70],[2012.05,0.74],[2012.07,0.78],[2012.09,0.80],[2012.11,0.82],[2012.13,0.80],
  [2012.76,0.90],[2012.776,0.89],[2012.792,0.86],[2012.809,0.91],[2012.825,0.86],[2012.841,0.83],[2012.857,0.80],[2012.873,0.78],[2012.889,0.75],[2012.905,0.72],[2012.784,0.83],[2012.849,0.87],[2012.881,0.83],[2012.897,0.79]
];
const monthlyP3 = [
  [2008.0,0.55],[2008.084,0.47],[2008.156,0.47], null,
  [2008.744,0.80],[2008.832,0.76],[2008.921,0.73],[2008.993,0.66],[2009.082,0.70],[2009.154,0.70], null,
  [2009.75,0.77],[2009.822,0.74],[2009.911,0.69],[2009.991,0.655],[2010.161,0.655], null,
  [2010.737,0.755],[2010.821,0.72],[2010.909,0.667],[2010.99,0.625],[2011.078,0.72],[2011.15,0.785],[2011.236,0.785], null,
  [2011.73,0.785],[2011.819,0.76],[2011.899,0.694],[2011.988,0.68],[2012.076,0.736],[2012.157,0.736], null,
  [2012.736,0.763],[2012.817,0.694],[2012.917,0.694]
];
const pentadP3 = [
  [2008.0,0.60],[2008.014,0.57],[2008.028,0.55],[2008.042,0.55],[2008.056,0.56],[2008.07,0.46],[2008.084,0.43],[2008.098,0.48],[2008.112,0.48],[2008.126,0.49],[2008.14,0.48],[2008.154,0.49],[2008.16,0.61],[2008.165,0.61], null,
  [2008.75,0.82],[2008.764,0.81],[2008.778,0.80],[2008.792,0.78],[2008.806,0.77],[2008.82,0.78],[2008.834,0.76],[2008.848,0.75],[2008.862,0.76],[2008.876,0.75],[2008.89,0.74],[2008.904,0.75],[2008.918,0.72],[2008.932,0.70],[2008.946,0.72],[2008.96,0.69],[2008.974,0.68],[2008.988,0.67],[2009.002,0.67],[2009.016,0.65],[2009.03,0.64],[2009.044,0.63],[2009.058,0.65],[2009.072,0.76],[2009.086,0.71],[2009.10,0.72],[2009.114,0.70],[2009.128,0.71],[2009.142,0.71],[2009.154,0.71], null,
  [2009.755,0.78],[2009.769,0.77],[2009.783,0.76],[2009.797,0.75],[2009.811,0.74],[2009.825,0.73],[2009.839,0.75],[2009.853,0.74],[2009.867,0.72],[2009.881,0.71],[2009.895,0.70],[2009.909,0.70],[2009.923,0.69],[2009.937,0.68],[2009.951,0.67],[2009.965,0.68],[2009.979,0.66],[2009.993,0.65],[2010.007,0.66],[2010.021,0.65],[2010.035,0.66],[2010.049,0.65],[2010.063,0.66],[2010.077,0.65],[2010.091,0.66],[2010.105,0.68],[2010.119,0.67],[2010.133,0.60],[2010.147,0.62],[2010.16,0.71],[2010.17,0.71], null,
  [2010.74,0.76],[2010.754,0.76],[2010.768,0.75],[2010.782,0.76],[2010.796,0.75],[2010.81,0.74],[2010.824,0.73],[2010.838,0.78],[2010.852,0.77],[2010.866,0.70],[2010.88,0.68],[2010.894,0.71],[2010.908,0.74],[2010.922,0.77],[2010.936,0.81],[2010.95,0.65],[2010.964,0.66],[2010.978,0.67],[2010.992,0.64],[2011.006,0.63],[2011.02,0.63],[2011.034,0.58],[2011.048,0.61],[2011.062,0.63],[2011.076,0.64],[2011.09,0.70],[2011.104,0.71],[2011.118,0.72],[2011.132,0.74],[2011.146,0.82],[2011.16,0.80],[2011.174,0.79],[2011.18,0.79], null,
  [2011.738,0.80],[2011.752,0.79],[2011.766,0.79],[2011.78,0.78],[2011.794,0.78],[2011.808,0.77],[2011.822,0.76],[2011.836,0.75],[2011.85,0.74],[2011.864,0.74],[2011.878,0.73],[2011.892,0.74],[2011.906,0.75],[2011.92,0.75],[2011.934,0.74],[2011.948,0.60],[2011.962,0.62],[2011.976,0.67],[2011.99,0.65],[2012.004,0.65],[2012.018,0.66],[2012.032,0.64],[2012.046,0.66],[2012.06,0.67],[2012.074,0.75],[2012.088,0.75],[2012.102,0.76],[2012.116,0.75],[2012.13,0.69],[2012.144,0.69],[2012.157,0.69], null,
  [2012.752,0.76],[2012.766,0.76],[2012.78,0.78],[2012.794,0.76],[2012.808,0.72],[2012.822,0.71],[2012.836,0.71],[2012.85,0.70],[2012.864,0.69],[2012.878,0.70],[2012.892,0.68],[2012.906,0.64],[2012.917,0.63]
];

// Panel 4 : 2013 - 2017
const salP4 = [
  [2013.003,0.07],[2013.019,0.07],[2013.003,0.85],[2013.011,0.71],[2013.019,0.55],[2013.027,0.51],[2013.035,0.73],[2013.043,0.44],[2013.051,0.60],[2013.059,0.37],[2013.067,0.67],[2013.075,0.52],[2013.083,0.75],[2013.092,0.29],[2013.10,0.45],[2013.108,0.64],[2013.116,0.52],[2013.124,0.72],[2013.132,0.57],[2013.14,0.90],[2013.156,0.43],[2013.164,0.68],[2013.172,0.67],[2013.188,0.64],[2013.156,0.74],[2013.043,0.79],[2013.067,0.51],[2013.10,0.60],[2013.019,0.67],[2013.124,0.43],
  [2013.005,0.62],[2013.015,0.60],[2013.025,0.64],[2013.035,0.58],[2013.045,0.62],[2013.055,0.56],[2013.065,0.60],[2013.075,0.58],[2013.085,0.62],[2013.095,0.55],[2013.105,0.58],[2013.115,0.60],[2013.125,0.56],[2013.135,0.60],
  [2013.744,0.77],[2013.76,0.62],[2013.776,0.44],[2013.784,0.71],[2013.80,0.65],[2013.816,0.79],[2013.832,0.60],[2013.849,0.71],[2013.865,0.44],[2013.873,0.57],[2013.889,0.37],[2013.897,0.65],[2013.913,0.74],[2013.921,0.60],[2013.937,0.55],[2013.945,0.77],[2013.961,0.53],[2013.969,0.66],[2013.977,0.44],[2013.985,0.37],[2013.993,0.58],[2014.009,0.71],[2014.017,0.51],[2014.025,0.64],[2014.034,0.43],[2014.042,0.55],[2014.05,0.32],[2014.058,0.51],[2014.066,0.39],[2014.074,0.60],[2014.082,0.48],[2014.001,0.81],[2013.953,0.82],[2013.873,0.68],[2013.808,0.55],[2013.929,0.51],[2014.042,0.71],[2014.082,0.34],
  [2013.75,0.72],[2013.77,0.70],[2013.79,0.68],[2013.81,0.70],[2013.83,0.67],[2013.85,0.65],[2013.87,0.66],[2013.89,0.62],[2013.91,0.64],[2013.93,0.60],[2013.95,0.62],[2013.97,0.58],[2013.99,0.60],[2014.01,0.56],[2014.03,0.58],[2014.05,0.54],[2014.07,0.52]
];
const situP4 = [
  [2013.011,0.64],[2013.027,0.67],[2013.043,0.62],[2013.059,0.65],[2013.075,0.68],[2013.092,0.64],[2013.108,0.69],[2013.124,0.62],[2013.132,0.67],[2013.10,0.90],[2013.14,0.75],[2013.172,0.76],[2013.18,0.89],[2013.188,0.86],[2013.035,0.60],[2013.067,0.57],[2013.003,0.76],
  [2013.005,0.62],[2013.02,0.60],[2013.04,0.66],[2013.06,0.60],[2013.08,0.63],[2013.10,0.62],[2013.12,0.65],[2013.14,0.62],
  [2013.736,0.93],[2013.752,0.92],[2013.768,0.90],[2013.776,0.88],[2013.792,0.85],[2013.808,0.83],[2013.824,0.85],[2013.84,0.83],[2013.857,0.81],[2013.873,0.79],[2013.889,0.78],[2013.905,0.77],[2013.921,0.74],[2013.937,0.72],[2013.953,0.71],[2013.969,0.69],[2013.985,0.72],[2014.001,0.71],[2014.017,0.68],[2014.034,0.67],[2014.05,0.65],[2014.066,0.71],[2014.082,0.78],[2014.009,0.99],[2014.017,0.95],[2013.84,0.89],[2013.905,0.85],[2013.969,0.79],[2013.937,0.62],[2013.985,0.55],[2014.034,0.58],[2014.058,0.85],
  [2013.745,0.88],[2013.76,0.86],[2013.78,0.84],[2013.80,0.82],[2013.82,0.80],[2013.84,0.79],[2013.86,0.77],[2013.88,0.76],[2013.90,0.74],[2013.92,0.72],[2013.94,0.70],[2013.96,0.68],[2013.98,0.67],[2014.0,0.66],[2014.02,0.64],[2014.04,0.63],[2014.06,0.62],[2014.08,0.60]
];
const monthlyP4 = [
  [2013.0,0.61],[2013.156,0.61], null,
  [2013.744,0.75],[2013.824,0.72],[2013.913,0.68],[2013.993,0.64],[2014.082,0.64]
];
const pentadP4 = [
  [2013.0,0.63],[2013.014,0.62],[2013.028,0.62],[2013.042,0.60],[2013.056,0.60],[2013.07,0.61],[2013.084,0.62],[2013.098,0.61],[2013.112,0.60],[2013.126,0.57],[2013.14,0.61],[2013.15,0.61], null,
  [2013.76,0.71],[2013.774,0.77],[2013.788,0.76],[2013.802,0.75],[2013.816,0.74],[2013.83,0.73],[2013.844,0.73],[2013.858,0.71],[2013.872,0.72],[2013.886,0.70],[2013.90,0.69],[2013.914,0.69],[2013.928,0.68],[2013.942,0.67],[2013.956,0.68],[2013.97,0.66],[2013.984,0.64],[2013.998,0.66],[2014.012,0.64],[2014.026,0.65],[2014.04,0.60],[2014.054,0.58],[2014.068,0.55],[2014.082,0.55]
];

// ---- Chart construction ----
const FONT = 'Liberation Sans, Arial, Helvetica, sans-serif';
const BOX = '#7a7a7a';
const TXT = '#2b2b2b';
const BLUE = '#8a8aff';
const GREY = '#5e5e5e';

// legend glyphs: a small centred dot and a thin bar inside a 30x4 box
const DOT_ICON = 'path://M0,0 M30,0 M30,4 M0,4 M13,2 A2,2 0 1,0 17,2 A2,2 0 1,0 13,2 Z';
const BAR_ICON = 'path://M0,1 L30,1 L30,3 L0,3 Z M0,0 M30,4';

const panelSal = [salP1, salP2, salP3, salP4];
const panelSitu = [situP1, situP2, situP3, situP4];
const panelMonthly = [monthlyP1, monthlyP2, monthlyP3, monthlyP4];
const panelPentad = [pentadP1, pentadP2, pentadP3, pentadP4];

const GRID_TOP = [28, 195, 363, 532];
const GRID_H = [120, 121, 121, 119];
const MONTHS_SPAN = 59;            // Jan of year 1 .. Dec of year 5
const TICK_STEP = MONTHS_SPAN / 10;

function toMonths(p, start) { return [(p[0] - start) * 12, p[1]]; }
function splitSegments(arr) {
  const segs = [[]];
  arr.forEach(p => { if (p === null) segs.push([]); else segs[segs.length - 1].push(p); });
  return segs.filter(s => s.length);
}
function tickLabel(v, start) {
  const m = Math.floor(v + 1e-6);
  const yr = start + Math.floor(m / 12);
  const mo = (m % 12) + 1;
  return (mo < 10 ? '0' : '') + mo + ' / ' + yr;
}

const grids = [], xAxes = [], yAxes = [], series = [];
PANEL_START_YEARS.forEach((start, i) => {
  grids.push({ left: 86, width: 1018, top: GRID_TOP[i], height: GRID_H[i],
    show: true, borderColor: BOX, borderWidth: 1, backgroundColor: 'transparent' });

  const xBase = { type: 'value', gridIndex: i, min: 0, max: MONTHS_SPAN, interval: TICK_STEP,
    splitLine: { show: false }, axisLine: { show: false },
    axisTick: { show: true, inside: true, length: 9, lineStyle: { color: BOX, width: 1 } } };
  xAxes.push(Object.assign({}, xBase, {
    position: 'bottom',
    axisLabel: { show: true, margin: 7, fontSize: 13, fontFamily: FONT, color: TXT,
      showMinLabel: true, showMaxLabel: true, formatter: v => tickLabel(v, start) },
    name: i === 3 ? X_NAME : '', nameLocation: 'middle', nameGap: 28,
    nameTextStyle: { fontSize: 17, fontFamily: FONT, color: TXT }
  }));
  xAxes.push(Object.assign({}, xBase, { position: 'top', axisLabel: { show: false } }));

  const yBase = { type: 'value', gridIndex: i, min: Y_TICKS[0], max: Y_TICKS[Y_TICKS.length - 1],
    interval: Y_TICKS[1] - Y_TICKS[0], splitLine: { show: false }, axisLine: { show: false },
    axisTick: { show: true, inside: true, length: 9, lineStyle: { color: BOX, width: 1 } } };
  yAxes.push(Object.assign({}, yBase, { position: 'left',
    axisLabel: { show: true, margin: 5, fontSize: 13, fontFamily: FONT, color: TXT } }));
  yAxes.push(Object.assign({}, yBase, { position: 'right', axisLabel: { show: false } }));

  const xi = i * 2, yi = i * 2;
  series.push({ type: 'scatter', name: NAMES[0], xAxisIndex: xi, yAxisIndex: yi, z: 2,
    symbol: 'circle', symbolSize: 4, itemStyle: { color: BLUE }, silent: true,
    data: panelSal[i].filter(p => p).map(p => toMonths(p, start)) });
  series.push({ type: 'scatter', name: NAMES[1], xAxisIndex: xi, yAxisIndex: yi, z: 3,
    symbol: 'circle', symbolSize: 3.4, itemStyle: { color: GREY }, silent: true,
    data: panelSitu[i].filter(p => p).map(p => toMonths(p, start)) });
  splitSegments(panelMonthly[i]).forEach(seg => series.push({
    type: 'line', name: NAMES[2], xAxisIndex: xi, yAxisIndex: yi, z: 4, step: 'end',
    symbol: 'none', showSymbol: false, silent: true,
    lineStyle: { color: '#000000', width: 2 }, itemStyle: { color: '#000000' },
    data: seg.map(p => toMonths(p, start)) }));
  splitSegments(panelPentad[i]).forEach(seg => series.push({
    type: 'line', name: NAMES[3], xAxisIndex: xi, yAxisIndex: yi, z: 5, step: 'end',
    symbol: 'none', showSymbol: false, silent: true,
    lineStyle: { color: '#ff0000', width: 1.6 }, itemStyle: { color: '#ff0000' },
    data: seg.map(p => toMonths(p, start)) }));
});

const chart = echarts.init(document.getElementById('chart'), null, { renderer: 'canvas' });
chart.setOption({
  animation: false,
  backgroundColor: '#ffffff',
  title: { text: TITLE, left: 595, top: 6, padding: 0, textAlign: 'center',
    textStyle: { fontSize: 16, fontWeight: 'bold', fontFamily: FONT, color: '#111111' } },
  legend: {
    left: 204, top: 510, orient: 'horizontal', padding: [2, 3, 2, 1], itemGap: 1,
    itemWidth: 30, itemHeight: 4, borderColor: '#8a8a8a', borderWidth: 1, borderRadius: 0,
    backgroundColor: '#ffffff', selectedMode: false,
    textStyle: { fontSize: 11, fontFamily: FONT, color: '#222222' },
    data: [
      { name: NAMES[0], icon: DOT_ICON, itemStyle: { color: BLUE } },
      { name: NAMES[1], icon: DOT_ICON, itemStyle: { color: GREY } },
      { name: NAMES[2], icon: BAR_ICON, itemStyle: { color: '#000000' } },
      { name: NAMES[3], icon: BAR_ICON, itemStyle: { color: '#ff0000' } }
    ]
  },
  graphic: [{
    type: 'text', x: 22, y: 332, rotation: Math.PI / 2,
    style: { text: Y_NAME, font: '22px ' + FONT, fill: TXT, textAlign: 'center', textVerticalAlign: 'middle' }
  }],
  grid: grids, xAxis: xAxes, yAxis: yAxes, series: series
});
</script>
</body>
</html>
